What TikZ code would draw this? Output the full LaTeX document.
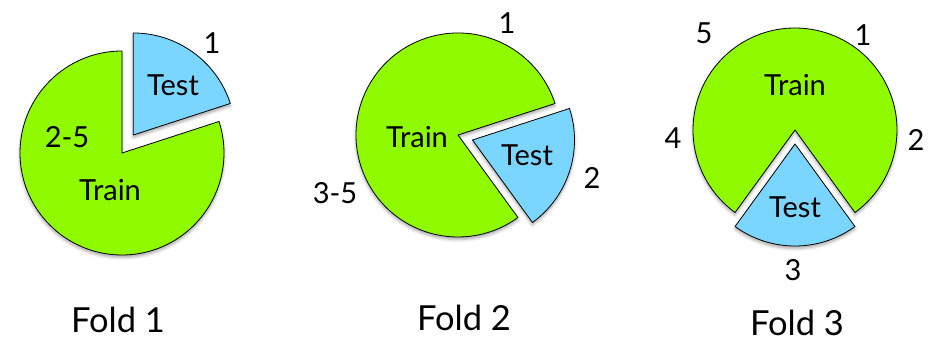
\documentclass[tikz,border=0pt]{standalone}
\usepackage{fontspec}
\setmainfont{Lato}
\usetikzlibrary{shadows.blur}
\definecolor{trainGreen}{RGB}{144,250,0}
\definecolor{testBlue}{RGB}{122,214,255}
\tikzset{
  slice/.style={draw=black, line width=0.8pt, line join=round,
    blur shadow={shadow xshift=0pt, shadow yshift=-2.5pt, shadow blur radius=3pt, shadow opacity=35}},
  train/.style={slice, fill=trainGreen},
  test/.style={slice, fill=testBlue},
  lbl/.style={font=\fontsize{29}{32}\selectfont, inner sep=0pt},
  foldcap/.style={font=\fontsize{34.5}{38}\selectfont, inner sep=0pt},
}
\begin{document}
\begin{tikzpicture}[x=1pt,y=1pt]
\useasboundingbox (0,0) rectangle (934,342);
\def\R{102}
% ---- Fold 1: slice 1 held out
\coordinate (c1) at (122,189);
\coordinate (t1) at (133.3,207);
\draw[train] (c1) -- ++(90:\R) arc[start angle=90, end angle=378, radius=\R] -- cycle;
\draw[test] (t1) -- ++(18:\R) arc[start angle=18, end angle=90, radius=\R] -- cycle;
\node[lbl] (f1test) at (173,257) {Test};
\node[lbl] (f1one) at (212,299) {1};
\node[lbl] (f1rest) at (67,205) {2-5};
\node[lbl] (f1train) at (110,152) {Train};
\node[foldcap] (fold1) at (118,22) {Fold 1};
% ---- Fold 2: slice 2 held out
\coordinate (c2) at (458,207);
\coordinate (t2) at (472.5,202);
\draw[train] (c2) -- ++(18:\R) arc[start angle=18, end angle=306, radius=\R] -- cycle;
\draw[test] (t2) -- ++(-54:\R) arc[start angle=-54, end angle=18, radius=\R] -- cycle;
\node[lbl] (f2one) at (507,319) {1};
\node[lbl] (f2train) at (417,205) {Train};
\node[lbl] (f2test) at (527,187) {Test};
\node[lbl] (f2two) at (592,164) {2};
\node[lbl] (f2rest) at (335,149) {3-5};
\node[foldcap] (fold2) at (464,24) {Fold 2};
% ---- Fold 3: slice 3 held out
\coordinate (c3) at (795,212);
\coordinate (t3) at (795,198);
\draw[train] (c3) -- ++(-54:\R) arc[start angle=-54, end angle=234, radius=\R] -- cycle;
\draw[test] (t3) -- ++(234:\R) arc[start angle=234, end angle=306, radius=\R] -- cycle;
\node[lbl] (f3five) at (704,309) {5};
\node[lbl] (f3one) at (863,307) {1};
\node[lbl] (f3train) at (795,257) {Train};
\node[lbl] (f3four) at (673,204) {4};
\node[lbl] (f3two) at (916,202) {2};
\node[lbl] (f3test) at (795,135) {Test};
\node[lbl] (f3three) at (793,72) {3};
\node[foldcap] (fold3) at (797,19) {Fold 3};
\end{tikzpicture}
\end{document}
